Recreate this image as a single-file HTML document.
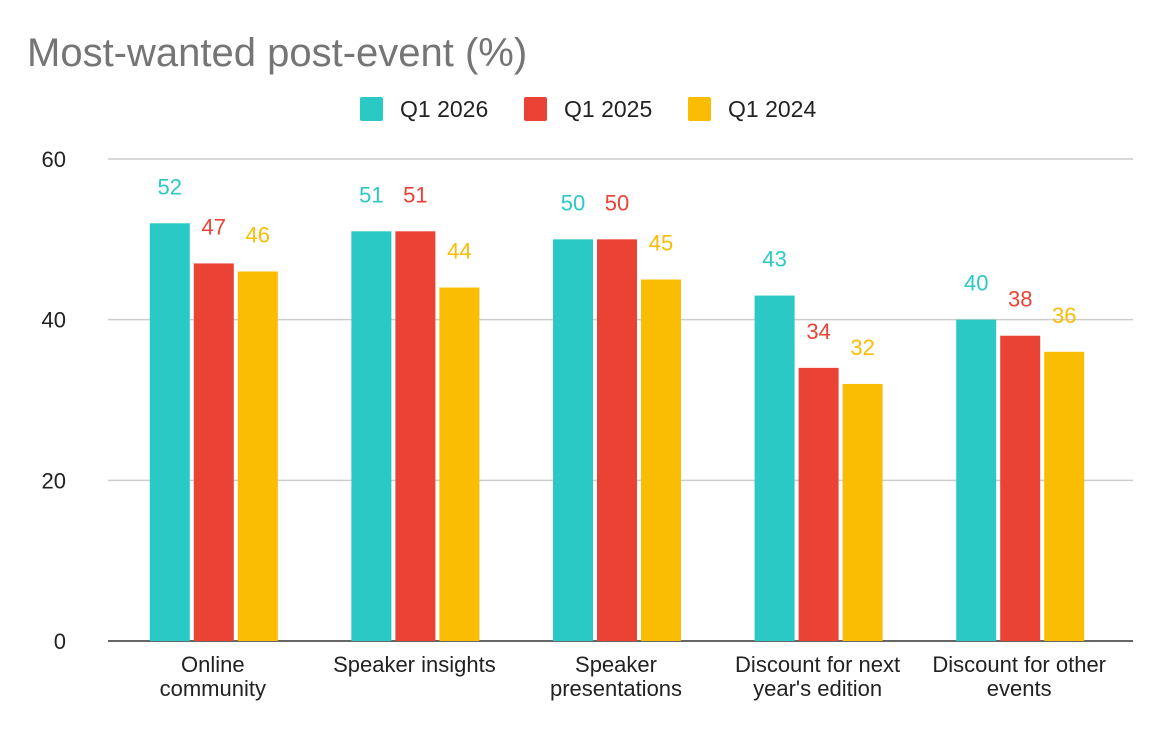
<!DOCTYPE html>
<html><head><meta charset="utf-8">
<style>
html,body{margin:0;padding:0;background:#fff;}
body{width:1176px;height:726px;overflow:hidden;font-family:"Liberation Sans",Arial,sans-serif;}
</style></head>
<body>
<svg id="chart" width="1176" height="726" xmlns="http://www.w3.org/2000/svg" font-family="Liberation Sans, Arial, sans-serif">
<text x="27" y="66" font-size="40" fill="#757575">Most-wanted post-event (%)</text>
<g id="legend"></g>
<g id="grid"></g>
<g id="bars"></g>
<g id="xlabels"></g>
</svg>
<script>
const categories = [["Online","community"],["Speaker insights"],["Speaker","presentations"],["Discount for next","year's edition"],["Discount for other","events"]];
const seriesNames = ["Q1 2026","Q1 2025","Q1 2024"];
const q2026 = [52,51,50,43,40];
const q2025 = [47,51,50,34,38];
const q2024 = [46,44,45,32,36];
const yTicks = [0,20,40,60];
const colors = ["#2bc9c6","#ea4335","#fbbc04"];
const series = [q2026,q2025,q2024];
const NS="http://www.w3.org/2000/svg";
const x0=112, x1=1120, yBase=641, yTop=159, yMax=60;
const band=(x1-x0)/categories.length;
const y=v=>yBase-(v/yMax)*(yBase-yTop);
const bx=(i,s)=>x0+band*i+band/2-63+s*44;
function mk(tag,attrs,parent,txt){const e=document.createElementNS(NS,tag);for(const k in attrs)e.setAttribute(k,attrs[k]);if(txt!==undefined)e.textContent=txt;parent.appendChild(e);return e;}
const grid=document.getElementById('grid');
yTicks.forEach(t=>{
  const l=mk('line',{x1:108,x2:1133,y1:y(t),y2:y(t),stroke:t===0?'#333':'#ccc','stroke-width':t===0?1.5:1.5},grid);
  
  
  const tx=mk('text',{x:66,y:y(t)+8,'font-size':22,fill:'#222','text-anchor':'end'},grid,String(t));
  
  
});
const bars=document.getElementById('bars');
series.forEach((arr,s)=>{arr.forEach((v,i)=>{
  const r=mk('rect',{x:bx(i,s),y:y(v),width:40,height:yBase-y(v),fill:colors[s]},bars);
  
  
  const t=mk('text',{x:bx(i,s)+20,y:y(v)-29,'font-size':22,fill:colors[s],'text-anchor':'middle'},bars,String(v));
  
  
});});
const xl=document.getElementById('xlabels');
categories.forEach((c,i)=>{c.forEach((line,j)=>{
  const t=mk('text',{x:x0+band*i+band/2,y:672+j*24,'font-size':22,fill:'#222','text-anchor':'middle'},xl,line);
  
  
});});
const lg=document.getElementById('legend');
const lx=[360,524,688];
seriesNames.forEach((n,s)=>{
  const r=mk('rect',{x:lx[s],y:97,width:23,height:24,fill:colors[s],rx:2},lg);
  
  
  const t=mk('text',{x:lx[s]+40,y:117,'font-size':23,fill:'#222'},lg,n);
  
  
});
</script>
</body></html>
